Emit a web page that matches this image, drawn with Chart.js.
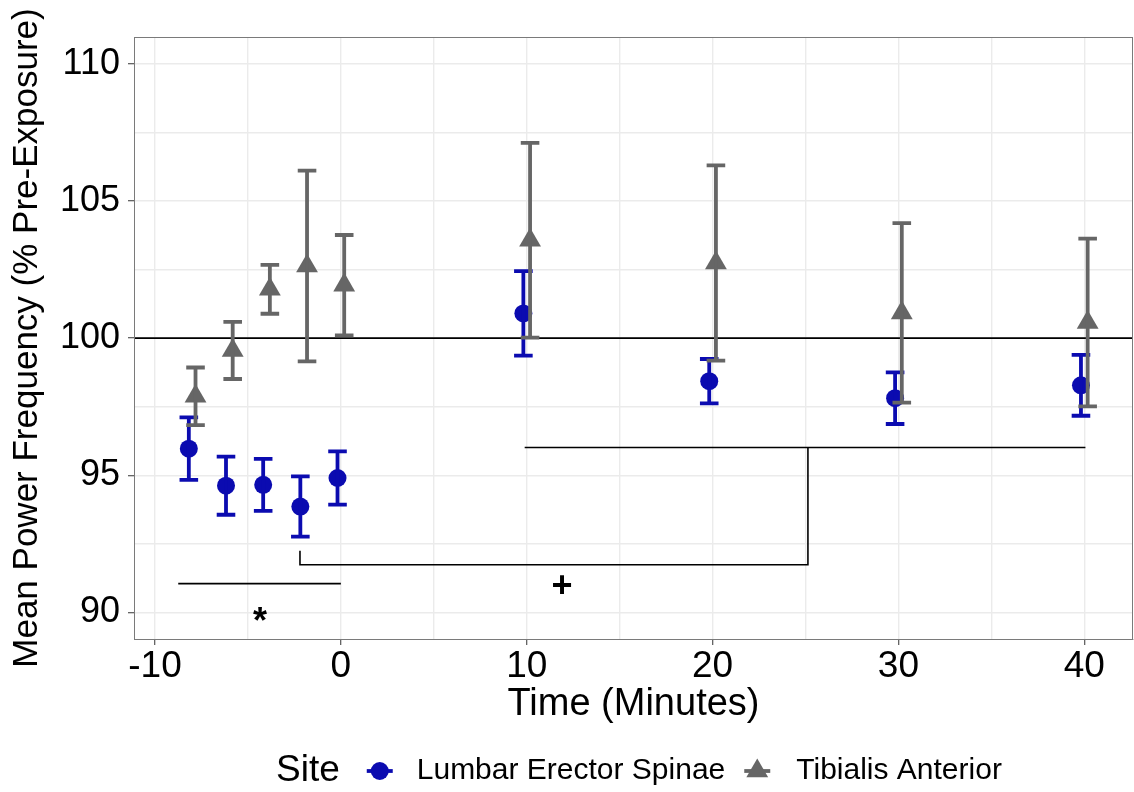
<!DOCTYPE html>
<html lang="en">
<head>
<meta charset="UTF-8">
<title>Mean Power Frequency by Site</title>
<script src="https://cdn.jsdelivr.net/npm/chart.js"></script>
<style>
  html, body { margin: 0; padding: 0; background: #fff; }
  #wrap { width: 1134px; height: 792px; position: relative; }
</style>
</head>
<body>
<div id="wrap"><canvas id="chartMPF"></canvas></div>
<script>
// time points (minutes relative to exposure)
const times = [-8, -6, -4, -2, 0, 10, 20, 30, 40];

// mean power frequency (% pre-exposure) and standard error per site
const lumbarMean = [95.97, 94.62, 94.65, 93.86, 94.90, 100.90, 98.43, 97.81, 98.28];
const lumbarErr = [1.14, 1.06, 0.95, 1.10, 0.97, 1.54, 0.81, 0.94, 1.11];
const tibialisMean = [97.88, 99.55, 101.78, 102.63, 101.93, 103.57, 102.74, 100.92, 100.57];
const tibialisErr = [1.05, 1.04, 0.89, 3.48, 1.83, 3.55, 3.56, 3.27, 3.06];

// axis breaks
const xTicks = [-10, 0, 10, 20, 30, 40];
const yTicks = [90, 95, 100, 105, 110];

// significance markings (data units)
const starLineX = [-8.75, 0];
const starLineY = 91.05;
const starLabel = { x: -4.35, y: 89.62, text: '*' };
const bracketX = [-2.2, -2.2, 25.13, 25.13];
const bracketY = [92.25, 91.74, 91.74, 96.01];
const laterLineX = [9.89, 40.06];
const laterLineY = 96.01;
const plusLabel = { x: 11.9, y: 90.91, text: '+' };

const FONT = "'Liberation Sans', Arial, Helvetica, sans-serif";
const BLUE = '#0b0bb0';
const GREY = '#666666';
const dodge = 0.18;

// major breaks plus halfway minor breaks for the grid
function withMinor(major) {
    const out = [];
    major.forEach((v, i) => {
        out.push(v);
        if (i < major.length - 1) out.push((v + major[i + 1]) / 2);
    });
    return out;
}
const isMajor = (list, v) => list.some(m => Math.abs(m - v) < 1e-6);

const lumbarPts = times.map((t, i) => ({ x: t - dodge, y: lumbarMean[i] }));
const tibialisPts = times.map((t, i) => ({ x: t + dodge, y: tibialisMean[i] }));

const segment = (xs, ys) => xs.map((x, i) => ({ x: x, y: Array.isArray(ys) ? ys[i] : ys }));

// error bars drawn on top of the points
const errorBars = {
    id: 'errorBars',
    afterDatasetsDraw(chart) {
        const { ctx, scales: { x, y } } = chart;
        chart.data.datasets.forEach(ds => {
            if (!ds.err) return;
            ctx.save();
            ctx.strokeStyle = ds.backgroundColor;
            ctx.lineWidth = 3.8;
            ctx.lineCap = 'butt';
            ds.data.forEach((p, i) => {
                const px = x.getPixelForValue(p.x);
                const hi = y.getPixelForValue(p.y + ds.err[i]);
                const lo = y.getPixelForValue(p.y - ds.err[i]);
                const half = (x.getPixelForValue(p.x + 0.5) - x.getPixelForValue(p.x - 0.5)) / 2;
                ctx.beginPath();
                ctx.moveTo(px, hi); ctx.lineTo(px, lo);
                ctx.moveTo(px - half, hi); ctx.lineTo(px + half, hi);
                ctx.moveTo(px - half, lo); ctx.lineTo(px + half, lo);
                ctx.stroke();
            });
            ctx.restore();
        });
    }
};

// baseline at 100 %, panel border and the * / + labels
const panelExtras = {
    id: 'panelExtras',
    beforeDatasetsDraw(chart) {
        const { ctx, chartArea: a, scales: { y } } = chart;
        const py = y.getPixelForValue(100);
        ctx.save();
        ctx.strokeStyle = '#000';
        ctx.lineWidth = 1.6;
        ctx.beginPath();
        ctx.moveTo(a.left, py); ctx.lineTo(a.right, py);
        ctx.stroke();
        ctx.restore();
    },
    afterDraw(chart) {
        const { ctx, chartArea: a, scales: { x, y } } = chart;
        ctx.save();
        ctx.strokeStyle = '#7a7a7a';
        ctx.lineWidth = 1;
        ctx.strokeRect(a.left + 0.5, a.top + 0.5, a.right - a.left - 1, a.bottom - a.top);
        ctx.fillStyle = '#000';
        ctx.textAlign = 'center';
        ctx.textBaseline = 'middle';
        ctx.font = 'bold 36px ' + FONT;
        [starLabel, plusLabel].forEach(l => {
            ctx.fillText(l.text, x.getPixelForValue(l.x), y.getPixelForValue(l.y));
        });
        ctx.restore();
    }
};

// legend row under the plot
const siteLegend = {
    id: 'siteLegend',
    afterDraw(chart) {
        const ctx = chart.ctx;
        const cy = 771;
        const H = Chart.helpers;
        ctx.save();
        ctx.textBaseline = 'middle';
        ctx.textAlign = 'left';
        ctx.fillStyle = '#000';
        ctx.font = '37px ' + FONT;
        let x = 276;
        ctx.fillText('Site', x, cy);
        x += ctx.measureText('Site').width + 40;

        const keys = [
            { label: 'Lumbar Erector Spinae', color: BLUE, style: 'circle', r: 9 },
            { label: 'Tibialis Anterior', color: GREY, style: 'triangle', r: 12.6 }
        ];
        ctx.font = '30px ' + FONT;
        keys.forEach((k, i) => {
            ctx.strokeStyle = k.color;
            ctx.fillStyle = k.color;
            ctx.lineWidth = 3.8;
            ctx.beginPath();
            ctx.moveTo(x - 13, cy); ctx.lineTo(x + 13, cy);
            ctx.stroke();
            H.drawPoint(ctx, { pointStyle: k.style, radius: k.r, rotation: 0, borderWidth: 0 }, x, cy);
            const tx = x + (i === 0 ? 37 : 39);
            ctx.fillStyle = '#000';
            ctx.fillText(k.label, tx, cy);
            x = tx + ctx.measureText(k.label).width + 32;
        });
        ctx.restore();
    }
};

const lineStyle = { borderColor: '#000', borderWidth: 1.6, pointRadius: 0, showLine: true, fill: false, tension: 0 };

new Chart(document.getElementById('chartMPF'), {
    type: 'scatter',
    data: {
        datasets: [
            Object.assign({ label: 'star', data: segment(starLineX, starLineY) }, lineStyle),
            Object.assign({ label: 'bracket', data: segment(bracketX, bracketY) }, lineStyle),
            Object.assign({ label: 'later', data: segment(laterLineX, laterLineY) }, lineStyle),
            {
                label: 'Lumbar Erector Spinae', data: lumbarPts, err: lumbarErr,
                backgroundColor: BLUE, pointStyle: 'circle', pointRadius: 9, pointBorderWidth: 0
            },
            {
                label: 'Tibialis Anterior', data: tibialisPts, err: tibialisErr,
                backgroundColor: GREY, pointStyle: 'triangle', pointRadius: 12.6, pointBorderWidth: 0
            }
        ]
    },
    options: {
        responsive: true,
        maintainAspectRatio: false,
        animation: false,
        layout: { autoPadding: false, padding: { top: 37, right: 1, bottom: 68, left: 0 } },
        plugins: { legend: { display: false }, tooltip: { enabled: false } },
        scales: {
            x: {
                type: 'linear', min: -11.13, max: 42.62,
                afterBuildTicks: s => { s.ticks = withMinor(xTicks).map(v => ({ value: v })); },
                afterFit: s => { s.height = 85; },
                grid: {
                    color: '#ebebeb', lineWidth: 1.4, tickLength: 6, tickWidth: 1.2,
                    tickColor: c => (c.tick && isMajor(xTicks, c.tick.value)) ? '#555' : 'rgba(0,0,0,0)'
                },
                border: { color: '#7a7a7a', width: 1 },
                ticks: {
                    padding: 0, color: '#000', autoSkip: false, maxRotation: 0,
                    font: { family: FONT, size: 37 },
                    callback: v => isMajor(xTicks, v) ? String(v) : ''
                },
                title: {
                    display: true, text: 'Time (Minutes)', color: '#000', padding: 0,
                    font: { family: FONT, size: 38, lineHeight: 1 }
                }
            },
            y: {
                type: 'linear', min: 89.03, max: 110.98,
                afterBuildTicks: s => { s.ticks = withMinor(yTicks).map(v => ({ value: v })); },
                afterFit: s => { s.width = 134; },
                grid: {
                    color: '#ebebeb', lineWidth: 1.4, tickLength: 6, tickWidth: 1.2,
                    tickColor: c => (c.tick && isMajor(yTicks, c.tick.value)) ? '#555' : 'rgba(0,0,0,0)'
                },
                border: { color: '#7a7a7a', width: 1 },
                ticks: {
                    padding: 8, color: '#000', autoSkip: false,
                    font: { family: FONT, size: 36 },
                    callback: v => isMajor(yTicks, v) ? String(v) : ''
                },
                title: {
                    display: true, text: 'Mean Power Frequency (% Pre-Exposure)', color: '#000',
                    padding: { top: 10, bottom: 0 },
                    font: { family: FONT, size: 35, lineHeight: 1 }
                }
            }
        }
    },
    plugins: [panelExtras, errorBars, siteLegend]
});
</script>
</body>
</html>
